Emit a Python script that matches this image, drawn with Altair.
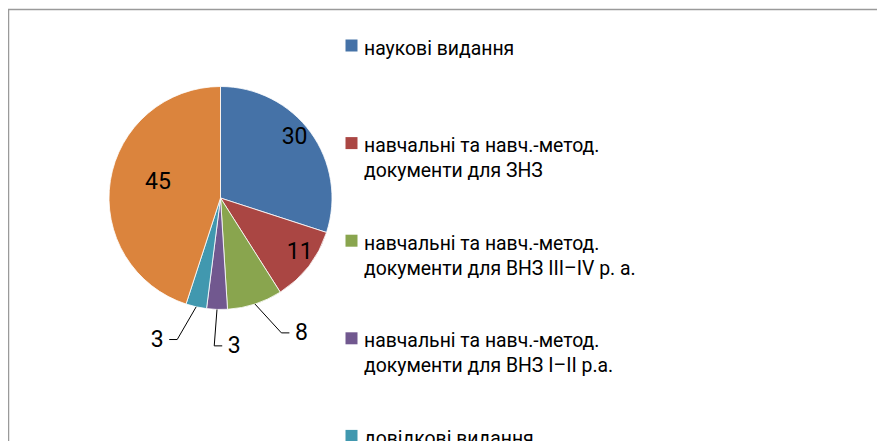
import altair as alt
import pandas as pd

# ---- data ----
categories = [
    "наукові видання",
    "навчальні та навч.-метод.\nдокументи для ЗНЗ",
    "навчальні та навч.-метод.\nдокументи для ВНЗ III–IV р. а.",
    "навчальні та навч.-метод.\nдокументи для ВНЗ I–II р.а.",
    "довідкові видання",
    "інші видання",
]
values = [30, 11, 8, 3, 3, 45]
colors = ["#4572A7", "#AA4643", "#89A54E", "#71588F", "#4198AF", "#DB843D"]

# ---- layout constants ----
W, H = 869, 440
CX, CY, R = 212.5, 188.0, 111.5   # pie centre / radius (px, inside the view)
RL = 148                           # end radius of leader lines
LX_SQ, LX_TXT = 343.5, 356         # legend square centre / text start
LY0, LDY = 35.5, 97.6              # legend first row centre / row step
FONT = "Roboto"
NUM_SIZE = 23
LEG_SIZE = 19.4
BORDER = "#9a9a9a"

df = pd.DataFrame({"cat": categories, "value": values, "idx": list(range(len(values)))})
leg_df = pd.DataFrame({
    "cat": categories,
    "idx": list(range(len(categories))),
    "line1": [c.split("\n")[0] for c in categories],
    "line2": [c.split("\n")[1] if "\n" in c else "" for c in categories],
})

color = alt.Color("cat:N", scale=alt.Scale(domain=categories, range=colors), legend=None)

base = alt.Chart(df)

pie = base.mark_arc(outerRadius=R, stroke="white", strokeWidth=0.8).encode(
    theta=alt.Theta("value:Q", stack=True),
    color=color,
    order=alt.Order("idx:Q"),
    x=alt.value(CX),
    y=alt.value(CY),
)

geo = base.transform_joinaggregate(total="sum(value)").transform_window(
    cum="sum(value)", sort=[alt.SortField("idx")], frame=[None, 0]
).transform_calculate(
    frac="datum.value / datum.total",
    mid="(datum.cum - datum.value/2) / datum.total * 2 * PI",
)

# inside labels: best-fit style, large slices get their label pulled toward the centre
inside = geo.transform_filter("datum.value >= 10").transform_calculate(
    ri=f"{R} * (datum.frac > 0.4 ? 0.58 : 0.86)",
    ang2="datum.frac > 0.4 ? datum.mid + 0.1 : datum.mid - 0.06",
    lx=f"{CX} + datum.ri*sin(datum.ang2)",
    ly=f"{CY} - datum.ri*cos(datum.ang2)",
).mark_text(font=FONT, fontSize=NUM_SIZE, color="#000000").encode(
    x=alt.X("lx:Q", scale=None),
    y=alt.Y("ly:Q", scale=None),
    text="value:Q",
)

out = geo.transform_filter("datum.value < 10").transform_calculate(
    ang="datum.mid + 0.35*(datum.mid - PI)",
    sx=f"{CX} + {R}*sin(datum.mid)",
    sy=f"{CY} - {R}*cos(datum.mid)",
    ex=f"{CX} + {RL}*sin(datum.ang)",
    ey=f"{CY} - {RL}*cos(datum.ang)",
    side="sin(datum.ang) > -0.1 ? 1 : -1",
    hx="datum.ex + 8*datum.side",
    tx="datum.hx + 12*datum.side",
)

leader1 = out.mark_rule(color="#000000", strokeWidth=1).encode(
    x=alt.X("sx:Q", scale=None), y=alt.Y("sy:Q", scale=None),
    x2="ex:Q", y2="ey:Q",
)
leader2 = out.mark_rule(color="#000000", strokeWidth=1).encode(
    x=alt.X("ex:Q", scale=None), y=alt.Y("ey:Q", scale=None),
    x2="hx:Q", y2="ey:Q",
)
outside = out.mark_text(font=FONT, fontSize=NUM_SIZE, color="#000000").encode(
    x=alt.X("tx:Q", scale=None), y=alt.Y("ey:Q", scale=None), text="value:Q",
)

legbase = alt.Chart(leg_df).transform_calculate(ly=f"{LY0} + datum.idx*{LDY}")
squares = legbase.mark_square(size=144, opacity=1).encode(
    x=alt.value(LX_SQ), y=alt.Y("ly:Q", scale=None), color=color,
)
text1 = legbase.mark_text(align="left", baseline="middle", font=FONT, fontSize=LEG_SIZE,
                          color="#000000", dy=3).encode(
    x=alt.value(LX_TXT), y=alt.Y("ly:Q", scale=None), text="line1:N",
)
text2 = legbase.mark_text(align="left", baseline="middle", font=FONT, fontSize=LEG_SIZE,
                          color="#000000", dy=28).encode(
    x=alt.value(LX_TXT), y=alt.Y("ly:Q", scale=None), text="line2:N",
)

# chart-area frame: a rectangle whose right and bottom edges lie outside the picture
frame = alt.Chart(leg_df.head(1)).mark_rect(
    fill="white", fillOpacity=0, stroke=BORDER, strokeWidth=1.5
).encode(
    x=alt.value(0.5), x2=alt.value(W + 40),
    y=alt.value(-0.5), y2=alt.value(H + 40),
)

chart = alt.layer(
    pie, inside, leader1, leader2, outside, squares, text1, text2, frame
).properties(
    width=W, height=H,
    padding={"left": 0, "top": 2, "right": 0, "bottom": 0},
    autosize="none",
).configure_view(stroke="transparent", strokeWidth=0)

chart.save("out.html", embed_options={"renderer": "svg", "actions": False})
